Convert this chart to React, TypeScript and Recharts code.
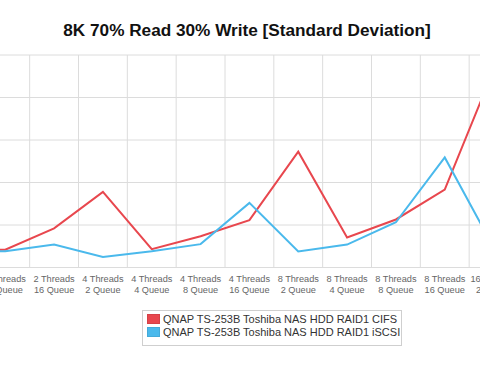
import React from 'react';
import { LineChart, Line, XAxis, YAxis, CartesianGrid } from 'recharts';

// categories (the chart is cropped: first and last ones sit mostly off-screen)
const categories = [
  '2 Threads 4 Queue',
  '2 Threads 8 Queue',
  '2 Threads 16 Queue',
  '4 Threads 2 Queue',
  '4 Threads 4 Queue',
  '4 Threads 8 Queue',
  '4 Threads 16 Queue',
  '8 Threads 2 Queue',
  '8 Threads 4 Queue',
  '8 Threads 8 Queue',
  '8 Threads 16 Queue',
  '16 Threads 2 Queue',
];

const cifsValues = [0.8, 0.84, 1.84, 3.56, 0.86, 1.47, 2.23, 5.45, 1.41, 2.26, 3.67, 9.3];
const iscsiValues = [0.72, 0.77, 1.08, 0.5, 0.77, 1.1, 3.04, 0.75, 1.08, 2.13, 5.18, 0.94];

const yTicks = [0, 2, 4, 6, 8, 10];

const series = [
  { key: 'cifs', name: 'QNAP TS-253B Toshiba NAS HDD RAID1 CIFS', color: '#e8474e' },
  { key: 'iscsi', name: 'QNAP TS-253B Toshiba NAS HDD RAID1 iSCSI', color: '#4ab9ec' },
];

const data = categories.map((c, i) => ({
  idx: i,
  name: c,
  cifs: cifsValues[i],
  iscsi: iscsiValues[i],
}));

const FONT = '"Liberation Sans", Arial, Helvetica, sans-serif';
const GRID = '#dcdcdc';

const TwoLineTick = (props: any) => {
  const { x, y, payload } = props;
  const label = categories[payload.value] || '';
  const parts = label.split(/(?<=Threads) /);
  return (
    <text x={x} y={y} textAnchor="middle" fill="#666" fontSize={9.2} fontFamily={FONT}>
      <tspan x={x} y={y + 14}>{parts[0]}</tspan>
      <tspan x={x} y={y + 25.7}>{parts[1]}</tspan>
    </text>
  );
};

// grid lines sit on category boundaries, not on the points
const boundaryLines = ({ offset }: any) => {
  const n = categories.length;
  return Array.from({ length: n + 1 }, (_, k) => offset.left + (k * offset.width) / n);
};

export default function App() {
  return (
    <div
      style={{
        position: 'absolute',
        left: 0,
        top: 0,
        width: 480,
        height: 368,
        overflow: 'hidden',
        background: '#fff',
        fontFamily: FONT,
      }}
    >
      <div
        style={{
          position: 'absolute',
          left: 0,
          top: 20,
          width: 494,
          height: 20,
          lineHeight: '20px',
          textAlign: 'center',
          fontWeight: 'bold',
          fontSize: 17.2,
          color: '#111',
        }}
      >
        8K 70% Read 30% Write [Standard Deviation]
      </div>

      <div style={{ position: 'absolute', left: -68, top: 0 }}>
        <LineChart width={586} height={300} data={data} margin={{ top: 55, right: 0, bottom: 0, left: 0 }}>
          <CartesianGrid stroke={GRID} verticalCoordinatesGenerator={boundaryLines} />
          <XAxis
            dataKey="idx"
            type="number"
            domain={[-0.5, categories.length - 0.5]}
            ticks={categories.map((_, i) => i)}
            interval={0}
            height={32.5}
            tickLine={false}
            tickSize={0}
            tickMargin={0}
            axisLine={{ stroke: GRID }}
            tick={<TwoLineTick />}
          />
          <YAxis hide domain={[0, 10]} ticks={yTicks} />
          {series.map((s) => (
            <Line
              key={s.key}
              type="linear"
              dataKey={s.key}
              name={s.name}
              stroke={s.color}
              strokeWidth={2}
              dot={false}
              isAnimationActive={false}
            />
          ))}
        </LineChart>
      </div>

      <div
        style={{
          position: 'absolute',
          left: 142,
          top: 310,
          width: 258,
          height: 33,
          border: '1px solid #cfcfcf',
          paddingTop: 1,
          boxSizing: 'content-box',
        }}
      >
        {series.map((s) => (
          <div key={s.key} style={{ display: 'flex', alignItems: 'center', height: 13, paddingLeft: 4 }}>
            <span
              style={{
                display: 'inline-block',
                width: 13,
                height: 10,
                background: s.color,
                border: '1px solid rgba(0,0,0,0.08)',
                boxSizing: 'border-box',
                marginRight: 3,
              }}
            />
            <span style={{ fontSize: 11, color: '#333', whiteSpace: 'nowrap' }}>{s.name}</span>
          </div>
        ))}
      </div>
    </div>
  );
}
